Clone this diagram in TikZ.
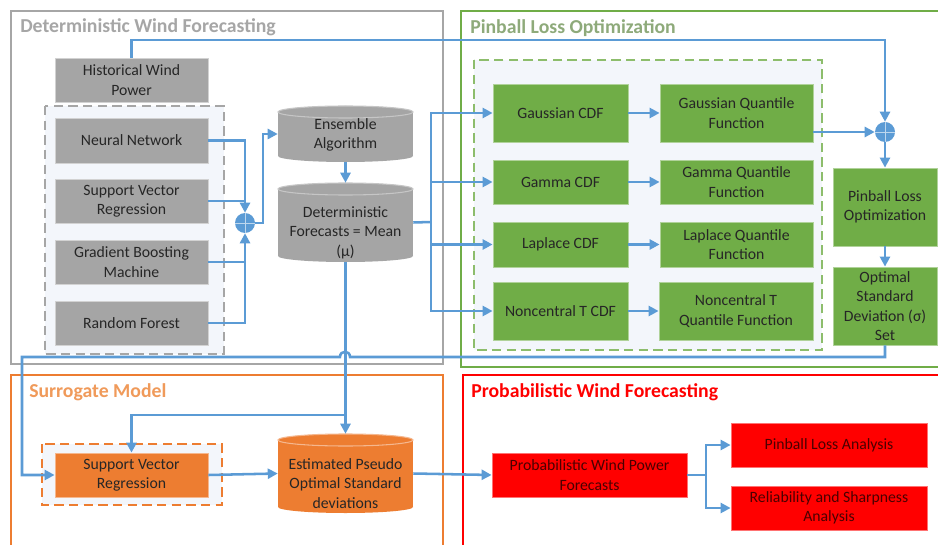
\documentclass[tikz,border=0pt]{standalone}
\usepackage{fontspec}
\setmainfont{Carlito}
\usetikzlibrary{arrows.meta,calc}
\definecolor{cblue}{HTML}{5B9BD5}
\definecolor{cgray}{HTML}{A5A5A5}
\definecolor{cgreen}{HTML}{70AD47}
\definecolor{corange}{HTML}{ED7D31}
\definecolor{cred}{HTML}{FF0000}
\definecolor{tgray}{HTML}{A6A6A6}
\definecolor{tgreen}{HTML}{8EAA7A}
\definecolor{torange}{HTML}{F09A5A}
\definecolor{txtdark}{HTML}{262626}
\definecolor{txtred}{HTML}{4A0000}
\definecolor{panel}{HTML}{F3F6FB}
\newcommand\mybox[7]{\node[#6, minimum width={(#4-#2)*0.75pt}, minimum height={(#5-#3)*0.75pt}] (#1) at ({(#2+#4)/2},{(#3+#5)/2}) {#7};}
\newcommand\mycyl[9]{%
  \fill[#6] (#2,{#3+6}) rectangle (#4,{#5-6});
  \fill[#6] ({(#2+#4)/2},{#5-6}) ellipse [x radius={(#4-#2)/2}, y radius=6];
  \filldraw[fill=#6,draw=#7,line width=0.8pt] ({(#2+#4)/2},{#3+6}) ellipse [x radius={(#4-#2)/2}, y radius=6];
  \node[inner sep=0, minimum width={(#4-#2)*0.75pt}, minimum height={(#5-#3)*0.75pt}] (#1) at ({(#2+#4)/2},{(#3+#5)/2}) {};
  \node[cyltext] (#1-t) at ({(#2+#4)/2},{(#3+#5)/2+#8}) {#9};}
\tikzset{
  conn/.style={draw=cblue, line width=1.9pt},
  arr/.style={conn, -{Triangle[length=7.5pt,width=7.5pt]}},
  base/.style={align=center, inner sep=1pt, font=\fontsize{11.8}{14.5}\selectfont, line width=0.6pt},
  graybox/.style={base, fill=cgray, draw=gray!35, text=txtdark},
  greenbox/.style={base, fill=cgreen, draw=cgreen!55, text=txtdark},
  orangebox/.style={base, fill=corange, draw=corange!55, text=txtdark},
  redbox/.style={base, fill=cred, draw=cred!55, text=txtred},
  cyltext/.style={align=center, inner sep=0, font=\fontsize{11.8}{14.5}\selectfont, text=txtdark},
  title/.style={anchor=west, inner sep=0, font=\fontsize{14.8}{17}\selectfont\bfseries},
  frame/.style={line width=2pt},
  dashbox/.style={fill=panel, line width=1.3pt, dash pattern=on 7pt off 4pt},
  plus/.style={circle, fill=cblue, minimum size=15pt, inner sep=0,
    path picture={\draw[cblue!40!white, line width=0.6pt]
      (path picture bounding box.north) -- (path picture bounding box.south)
      (path picture bounding box.west) -- (path picture bounding box.east);}},
}
\begin{document}
\begin{tikzpicture}[x=0.75pt,y=-0.75pt]
\useasboundingbox (0,0) rectangle (938,545);
\clip (0,0) rectangle (938,545);
\fill[white] (0,0) rectangle (938,545);
% frames
\draw[frame, draw=tgray] (11,11) rectangle (443,364);
\draw[frame, draw=cgreen] (461,11) rectangle (950,367);
\draw[frame, draw=corange] (11,375) rectangle (443,560);
\draw[frame, draw=cred] (463,375) rectangle (950,560);
\node[title, text=tgray] (t1) at (20,27) {Deterministic Wind Forecasting};
\node[title, text=tgreen] (t2) at (470,28) {Pinball Loss Optimization};
\node[title, text=torange] (t3) at (29,392) {Surrogate Model};
\node[title, text=cred] (t4) at (471,392) {Probabilistic Wind Forecasting};
% dashed panels
\draw[dashbox, draw=gray!70] (45,106) rectangle (224,354);
\draw[dashbox, draw=cgreen!80] (474,60) rectangle (822,350);
\draw[dashbox, draw=corange] (42,444) rectangle (222,505);
% gray nodes
\mybox{hist}{55}{58}{208}{102}{graybox}{Historical Wind\\Power}
\mybox{nn}{55}{118}{208}{163}{graybox}{Neural Network}
\mybox{svr}{55}{179}{208}{223}{graybox}{Support Vector\\Regression}
\mybox{gbm}{55}{240}{208}{284}{graybox}{Gradient Boosting\\Machine}
\mybox{rf}{55}{301}{208}{345}{graybox}{Random Forest}
\node[plus] (p1) at (245,223) {};
\mycyl{ens}{278}{106}{413}{162}{cgray}{gray!45}{1}{Ensemble\\Algorithm}
\mycyl{det}{278}{183}{413}{262}{cgray}{gray!45}{10}{Deterministic\\Forecasts = Mean\\(μ)}
% green nodes
\mybox{gcdf}{493}{84}{628}{142}{greenbox}{Gaussian CDF}
\mybox{gq}{660}{84}{813}{142}{greenbox}{Gaussian Quantile\\Function}
\mybox{gacdf}{493}{160}{628}{204}{greenbox}{Gamma CDF}
\mybox{gaq}{660}{160}{813}{204}{greenbox}{Gamma Quantile\\Function}
\mybox{lcdf}{493}{222}{628}{267}{greenbox}{Laplace CDF}
\mybox{lq}{660}{222}{813}{267}{greenbox}{Laplace Quantile\\Function}
\mybox{ncdf}{493}{282}{628}{340}{greenbox}{Noncentral T CDF}
\mybox{nq}{659}{282}{813}{340}{greenbox}{Noncentral T\\Quantile Function}
\mybox{plo}{833}{168}{937}{246}{greenbox}{Pinball Loss\\Optimization}
\mybox{opt}{833}{267}{937}{345}{greenbox}{Optimal\\Standard\\Deviation (σ)\\Set}
\node[plus] (p2) at (885,132) {};
% orange nodes
\mybox{osvr}{55}{453}{208}{497}{orangebox}{Support Vector\\Regression}
\mycyl{est}{278}{434}{413}{513}{corange}{corange!55}{10}{Estimated Pseudo\\Optimal Standard\\deviations}
% red nodes
\mybox{pwf}{492}{453}{687}{497}{redbox}{Probabilistic Wind Power\\Forecasts}
\mybox{pla}{731}{423}{927}{467}{redbox}{Pinball Loss Analysis}
\mybox{rsa}{731}{486}{927}{530}{redbox}{Reliability and Sharpness\\Analysis}
% coordinates
\coordinate (topy) at (0,40);
\coordinate (b1) at (263,223);
\coordinate (b2) at (431,222);
\coordinate (b3) at (345,415);
\coordinate (hopR) at (350,357);
\coordinate (hopL) at (340,357);
\coordinate (lc) at (22,357);
\coordinate (b4) at (706,475);
% connectors
\draw[arr] (hist.north) -- (hist.north |- topy) -| (p2.north);
\draw[arr] (nn.east) -| (p1.north);
\draw[conn] (svr.east) -- (svr.east -| p1.center);
\draw[arr] (gbm.east) -| (p1.south);
\draw[conn] (rf.east) -| (gbm.east -| p1.center);
\draw[arr] (p1.east) -- (b1) |- (ens.west);
\draw[arr] (ens.south) -- (det.north);
\draw[conn] (det.east) -- (b2);
\draw[arr] (b2) |- (gcdf.west);
\draw[arr] (b2) |- (gacdf.west);
\draw[arr] (b2) |- (lcdf.west);
\draw[arr] (b2) |- (ncdf.west);
\draw[arr] (gcdf) -- (gq);
\draw[arr] (gacdf) -- (gaq);
\draw[arr] (lcdf) -- (lq);
\draw[arr] (ncdf) -- (nq);
\draw[arr] (gq.east |- p2) -- (p2.west);
\draw[arr] (p2.south) -- (plo.north);
\draw[arr] (plo.south) -- (opt.north);
\draw[arr] (opt.south) |- (hopR) .. controls (350,350) and (340,350) .. (hopL) -- (lc) |- (osvr.west);
\draw[arr] (det.south) -- (est.north);
\draw[arr] (b3) -| (osvr.north);
\draw[arr] (osvr.east) -- (est.west);
\draw[arr] (est.east) -- (pwf.west);
\draw[conn] (pwf.east) -- (b4);
\draw[arr] (b4) |- (pla.west);
\draw[arr] (b4) |- (rsa.west);
\end{tikzpicture}
\end{document}
